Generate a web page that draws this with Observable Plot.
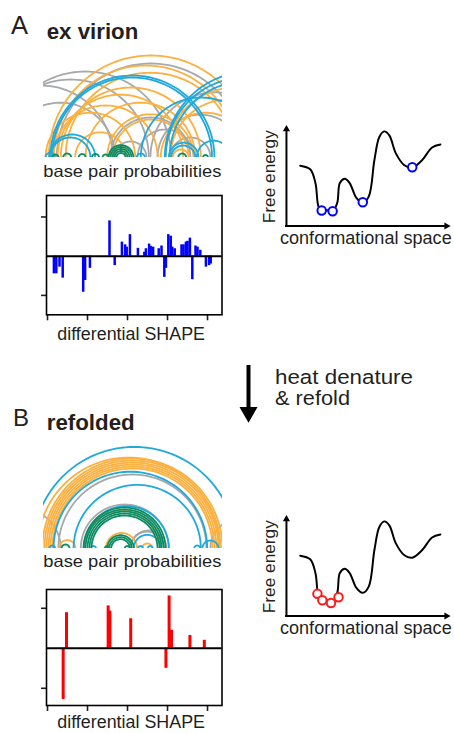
<!DOCTYPE html>
<html><head><meta charset="utf-8">
<script src="https://cdn.jsdelivr.net/npm/d3@7"></script>
<script src="https://cdn.jsdelivr.net/npm/@observablehq/plot@0.6"></script>
<style>
html,body{margin:0;padding:0;background:#fff;}
#fig{position:relative;width:454px;height:733px;overflow:hidden;font-family:"Liberation Sans",Arial,sans-serif;color:#231f20;}
.panel{position:absolute;}
.panel svg{display:block;overflow:visible;background:transparent;}
.panel svg g[aria-label="x-axis tick"], .panel svg g[aria-label="y-axis tick"]{stroke-width:1.6;}
.lbl{position:absolute;left:0;top:0;white-space:nowrap;line-height:1;transform-origin:0 0;}
</style></head><body><div id="fig"></div>
<script>
// ---------- DATA ----------
// base-pair probability bins and their colours
const pairBins = ["0.1–0.3", "0.3–0.5", "0.5–0.8", "≥0.8"];
const pairColors = ["#a6a8ab", "#fbb040", "#1fa9dc", "#0b8c62"];

// arcs [i, j] (nucleotide positions) per probability bin — ex virion
const arcsA_low  = [[-60,155],[-68,127],[12,247],[129,292],[79,179],[113,183],[-52,85],[138,245],[-98,82],[154,204],[84,124]];
const arcsA_mid  = [[2,257],[8,238],[23,235],[17,192],[13,170],[154,299],[148,323],[142,254],[35,98],[-2,110],[8,138],[157,177],[48,185],[75,183],[82,177]];
const arcsA_high = [[4,209],[6,206],[148,348],[153,343],[147,362],[2.5,60],[4,54],[152,189],[155,185],[187,229],[-2,10],[112,122],[117,267]];
const arcsA_top  = [[76.75,107.75],[79.1,105.4],[81.6,102.9],[84.1,100.4],[86.6,97.9],[20,30],[39.4,48.1],[56,64.75],[69.1,76.6],[163.75,173.75],[194.75,201],[6.6,14.1]];

// arcs — refolded
const arcsB_low  = [[14,199],[42,152],[104,146],[-83,17],[204,279],[104,149]];
const arcsB_mid  = [[-6,219],[-3.4,216.6],[-0.9,214.1],[1.6,211.6],[4.1,209.1],[6.6,206.6],[-12,215.4],[14.6,35.4],[46.6,141.6],[73.5,112.25],[118.75,131.25]];
const arcsB_high = [[-18,236],[8,200],[33,192],[46,152],[108,142],[2.5,10],[183.75,191.25],[54.75,61],[113.5,119.75],[125.75,132],[194,214]];
const arcsB_top  = [[45.4,147.9],[47.9,145.4],[50.4,142.9],[52.9,140.4],[55.4,137.9],[75,108.25],[77.5,105.75],[80,103.25],[17.9,27.9],[71.9,78.1],[96.9,103.1]];

// differential SHAPE reactivities
const shapeA_pos = [8,11,15,19,44.6,47,53,77.5,84,93,97,99,103,113,121,123,127,129,132,139,142.5,146,148,151,154,156,159,167.5,170,173,175,178,181,185,187.5,191,198,202,204];
const shapeA_val = [-0.45,-0.45,-0.28,-0.56,-0.92,-0.62,-0.31,0.90,-0.24,0.36,0.29,0.23,0.55,0.2,0.1,0.19,0.31,0.25,0.23,0.19,0.26,-0.54,-0.31,0.55,0.51,0.23,0.19,0.29,0.29,0.36,0.38,0.46,-0.6,0.26,0.23,0.15,-0.28,-0.24,-0.2];
const shapeB_pos = [19.6,23.75,75.8,78,104,148,152,155,178,196];
const shapeB_val = [-1.28,0.89,1.06,0.93,0.74,-0.5,1.31,0.45,0.32,0.2];
const shapeTicksX = [0,50,100,150,200];
const shapeTicksY = [-1,1];

// free-energy landscape (conformational coordinate, free energy)
const landscapeX = [8.4,14.5,17.7,19.5,21.5,24.9,28.2,31.0,32.6,35.6,38.6,42.7,46.6,50.3,53.7,56.7,59.7,62.8,66.8,71.8,76.8,82.9,88.9,94.0];
const landscapeY = [60,56.4,42.7,19.7,14.7,15.7,14.7,23.0,42.7,46.9,42.7,27.9,23.0,29.5,65.6,88.5,94.1,90.2,72.2,60.7,58.0,65.6,78.1,81.0];
const statesA_x = [21.5,28.2,46.6,76.8];
const statesA_y = [15.4,14.7,23.6,58.4];
const statesB_x = [18.9,21.9,27.2,31.8];
const statesB_y = [22.0,15.7,12.8,18.7];

// ---------- DRAWING ----------
const fig = document.getElementById("fig");
function place(node, left, top) {
  const d = document.createElement("div");
  d.className = "panel"; d.style.left = left + "px"; d.style.top = top + "px";
  d.appendChild(node); fig.appendChild(d);
}

function arcPanel(groups) {
  const lines = []; let id = 0;
  groups.forEach(([bin, arcs]) => arcs.forEach(([i, j]) => {
    const c = (i + j) / 2, R = (j - i) / 2;
    for (let s = 0; s <= 72; s++) {
      const t = Math.PI * s / 72;
      lines.push({id, bin, x: c + R * Math.cos(t), y: R * Math.sin(t)});
    }
    id++;
  }));
  return Plot.plot({
    width: 179, height: 105, margin: 0,
    x: {domain: [-4.6, 219.1], axis: null},
    y: {domain: [0, 131.25], axis: null},
    color: {domain: pairBins, range: pairColors},
    marks: [Plot.line(lines, {x: "x", y: "y", z: "id", stroke: "bin", strokeWidth: 1.8, clip: true})]
  });
}

function shapePanel(pos, val, color, yDomain, barWidth, height) {
  const data = pos.map((p, k) => ({pos: p, val: val[k]}));
  return Plot.plot({
    width: 185.5, height, marginLeft: 8, marginRight: 2, marginTop: 2, marginBottom: 9,
    x: {domain: [-1.25, 218.1], ticks: shapeTicksX, tickSize: 6, tickFormat: () => "", label: null},
    y: {domain: yDomain, ticks: shapeTicksY, tickSize: 5, tickFormat: () => "", label: null},
    marks: [
      Plot.ruleX(data, {x: "pos", y1: 0, y2: "val", stroke: color, strokeWidth: barWidth}),
      Plot.ruleY([0], {stroke: "black", strokeWidth: 2}),
      Plot.frame({stroke: "black", strokeWidth: 1.6})
    ]
  });
}

function landscapePanel(sx, sy, color) {
  const curve = landscapeX.map((x, k) => ({x, y: landscapeY[k]}));
  const states = sx.map((x, k) => ({x, y: sy[k]}));
  return Plot.plot({
    width: 174, height: 110, marginLeft: 4, marginTop: 4, marginRight: 4.3, marginBottom: 4.3,
    x: {domain: [0, 100], axis: null},
    y: {domain: [0, 100], axis: null},
    marks: [
      Plot.ruleX([0], {y1: -1, y2: 97, stroke: "black", strokeWidth: 2}),
      Plot.ruleY([0], {x1: -0.6, x2: 98, stroke: "black", strokeWidth: 2}),
      Plot.dot([{x: 0, y: 96.3}], {x: "x", y: "y", symbol: "triangle", r: 2.7, fill: "black", stroke: "none"}),
      Plot.dot([{x: 97.7, y: 0}], {x: "x", y: "y", symbol: "triangle", r: 2.7, fill: "black", stroke: "none", rotate: 90}),
      Plot.line(curve, {x: "x", y: "y", curve: "catmull-rom", stroke: "black", strokeWidth: 2}),
      Plot.dot(states, {x: "x", y: "y", r: 4.3, stroke: color, strokeWidth: 2, fill: "white"})
    ]
  });
}

function transitionArrow() {
  return Plot.plot({
    width: 30, height: 57, margin: 0,
    x: {domain: [0, 1], axis: null}, y: {domain: [0, 1], axis: null},
    marks: [
      Plot.ruleX([0.5], {y1: 1, y2: 0.22, stroke: "black", strokeWidth: 4}),
      Plot.dot([{x: 0.5, y: 0.18}], {x: "x", y: "y", symbol: "triangle", r: 6.7, fill: "black", stroke: "none", rotate: 180})
    ]
  });
}

place(arcPanel([[pairBins[0], arcsA_low], [pairBins[1], arcsA_mid], [pairBins[2], arcsA_high], [pairBins[3], arcsA_top]]), 43, 52);
place(shapePanel(shapeA_pos, shapeA_val, "#0000ff", [-1.495, 1.548], 2.5, 130.3), 37.7, 193);
place(landscapePanel(statesA_x, statesA_y, "#0000ff"), 282, 121);
place(transitionArrow(), 233.3, 365);
place(arcPanel([[pairBins[0], arcsB_low], [pairBins[1], arcsB_mid], [pairBins[2], arcsB_high], [pairBins[3], arcsB_top]]), 43, 443.3);
place(shapePanel(shapeB_pos, shapeB_val, "#ff0000", [-1.43, 1.47], 3, 127), 37.7, 587);
place(landscapePanel(statesB_x, statesB_y, "#ff1a1a"), 282, 511);

// ---------- TEXT ----------
function label(text, o) {
  const d = document.createElement("div");
  d.className = "lbl"; d.textContent = text;
  d.style.fontSize = o.s + "px"; d.style.fontWeight = o.bold ? "700" : "400";
  fig.appendChild(d);
  const w = d.getBoundingClientRect().width;
  const k = o.w ? o.w / w : 1;
  const asc = 0.8465 * o.s;
  if (o.rot) {
    const X = o.bx - asc, Y = o.cy + w * k / 2;
    d.style.transform = `translate(${X}px,${Y}px) rotate(-90deg) scaleX(${k})`;
  } else {
    d.style.transform = `translate(${o.x}px,${o.b - asc}px) scaleX(${k})`;
  }
}
label("A", {x: 11, b: 35, s: 25.5});
label("ex virion", {x: 46.7, b: 40, s: 22.5, bold: true, w: 91.6});
label("base pair probabilities", {x: 43.3, b: 177.3, s: 16.5, w: 178});
label("differential SHAPE", {x: 57.3, b: 341, s: 17.5, w: 147.7});
label("Free energy", {rot: true, bx: 275, cy: 176.7, s: 17, w: 93});
label("conformational space", {x: 280, b: 245, s: 17.5, w: 171.7});
label("heat denature", {x: 275, b: 384, s: 20.5, w: 138});
label("& refold", {x: 275, b: 405, s: 20.5, w: 75});
label("B", {x: 13, b: 426.7, s: 24});
label("refolded", {x: 46.7, b: 430.7, s: 22, bold: true, w: 88});
label("base pair probabilities", {x: 43.3, b: 566.7, s: 16.5, w: 178});
label("differential SHAPE", {x: 57.3, b: 729, s: 17.5, w: 147.7});
label("Free energy", {rot: true, bx: 275, cy: 566.7, s: 17, w: 93});
label("conformational space", {x: 280, b: 635, s: 17.5, w: 171.7});
</script></body></html>
